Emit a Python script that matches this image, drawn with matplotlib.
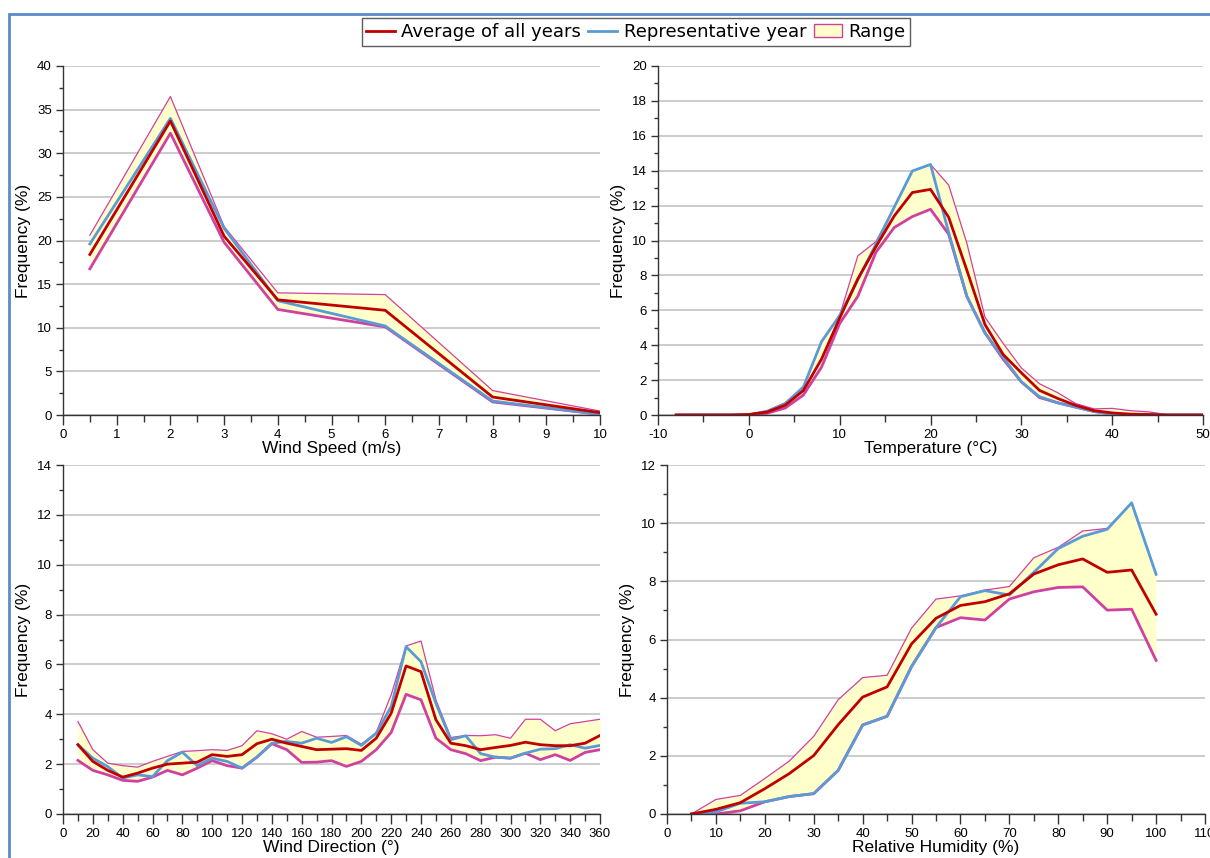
import numpy as np
import matplotlib
matplotlib.use("Agg")
import matplotlib.pyplot as plt
from matplotlib.lines import Line2D
from matplotlib.patches import Patch, Rectangle
from matplotlib.ticker import MultipleLocator, AutoMinorLocator

plt.rcParams['font.family'] = ['Liberation Sans', 'DejaVu Sans']
plt.rcParams['axes.unicode_minus'] = False

# ---- wind speed ----
ws_x = [0.5, 2, 3, 4, 6, 8, 10]
ws_avg = [18.4, 33.7, 20.5, 13.2, 12.0, 2.06, 0.27]
ws_rep = [19.6, 34.0, 21.4, 13.1, 10.2, 1.6, 0.08]
ws_max = [20.6, 36.5, 21.6, 14.0, 13.8, 2.8, 0.45]
ws_min = [16.75, 32.3, 19.8, 12.1, 10.1, 1.5, 0.08]

# ---- temperature ----
t_x = list(range(-8, 52, 2))
t_avg = [0, 0, 0, 0, 0.03, 0.17, 0.56, 1.4, 3.2, 5.55, 7.8, 9.65, 11.4, 12.75, 12.93,
         11.33, 8.3, 5.18, 3.47, 2.42, 1.41, 0.95, 0.55, 0.25, 0.12, 0.05, 0.03, 0, 0, 0]
t_rep = [0, 0, 0, 0, 0, 0.2, 0.65, 1.6, 4.2, 5.7, 7.75, 9.8, 11.9, 13.98, 14.36,
         10.46, 6.8, 4.7, 3.3, 1.9, 1.05, 0.7, 0.45, 0.2, 0.05, 0, 0, 0, 0, 0]
t_max = [0, 0, 0, 0, 0.05, 0.25, 0.7, 1.62, 4.23, 5.71, 9.12, 9.94, 11.9, 13.98, 14.36,
         13.18, 9.85, 5.6, 4.1, 2.7, 1.79, 1.28, 0.65, 0.35, 0.38, 0.25, 0.18, 0.03, 0, 0]
t_min = [0, 0, 0, 0, 0, 0.1, 0.4, 1.14, 2.74, 5.24, 6.8, 9.33, 10.74, 11.37, 11.79,
         10.36, 6.8, 4.7, 3.2, 1.9, 1.0, 0.7, 0.45, 0.2, 0.05, 0, 0, 0, 0, 0]

# ---- wind direction ----
wd_x = list(range(10, 370, 10))
wd_avg = [2.78, 2.11, 1.75, 1.48, 1.64, 1.84, 2.0, 2.04, 2.08, 2.38, 2.31, 2.38,
          2.82, 3.0, 2.84, 2.71, 2.58, 2.6, 2.62, 2.55, 3.04, 4.04, 5.94, 5.71,
          3.78, 2.84, 2.74, 2.58, 2.67, 2.75, 2.88, 2.78, 2.74, 2.74, 2.84, 3.15]
wd_rep = [2.78, 2.24, 1.9, 1.44, 1.57, 1.5, 2.14, 2.48, 1.94, 2.24, 2.11, 1.84,
          2.28, 2.84, 2.91, 2.84, 3.04, 2.87, 3.1, 2.75, 3.24, 4.31, 6.71, 6.11,
          4.44, 2.98, 3.14, 2.42, 2.28, 2.24, 2.44, 2.6, 2.62, 2.78, 2.64, 2.75]
wd_max = [3.71, 2.58, 2.04, 1.94, 1.88, 2.11, 2.31, 2.51, 2.54, 2.58, 2.55, 2.74,
          3.34, 3.22, 3.0, 3.31, 3.08, 3.11, 3.15, 2.8, 3.27, 4.78, 6.74, 6.94,
          4.58, 3.07, 3.15, 3.14, 3.18, 3.04, 3.8, 3.8, 3.34, 3.62, 3.71, 3.8]
wd_min = [2.15, 1.75, 1.57, 1.35, 1.31, 1.48, 1.75, 1.57, 1.84, 2.14, 1.94, 1.84,
          2.28, 2.82, 2.58, 2.07, 2.08, 2.14, 1.91, 2.11, 2.58, 3.27, 4.8, 4.58,
          3.04, 2.58, 2.42, 2.14, 2.28, 2.24, 2.44, 2.18, 2.38, 2.15, 2.47, 2.58]

# ---- relative humidity ----
rh_x = list(range(5, 105, 5))
rh_avg = [0, 0.16, 0.39, 0.87, 1.39, 2.01, 3.07, 4.02, 4.37, 5.85, 6.73, 7.17,
          7.3, 7.57, 8.25, 8.57, 8.77, 8.31, 8.39, 6.87]
rh_rep = [0, 0.07, 0.37, 0.42, 0.6, 0.7, 1.5, 3.06, 3.36, 5.07, 6.41, 7.47,
          7.68, 7.53, 8.31, 9.13, 9.55, 9.79, 10.7, 8.24]
rh_max = [0, 0.5, 0.64, 1.22, 1.82, 2.67, 3.93, 4.69, 4.77, 6.39, 7.39, 7.5,
          7.7, 7.82, 8.81, 9.17, 9.73, 9.82, 10.7, 8.24]
rh_min = [0, 0, 0.11, 0.42, 0.6, 0.7, 1.5, 3.06, 3.36, 5.07, 6.41, 6.75,
          6.67, 7.39, 7.64, 7.79, 7.81, 7.01, 7.04, 5.28]

RED = '#C00000'
BLUE = '#5B9BD5'
MAG = '#D040A0'
FILL = '#FFFFCC'

fig = plt.figure(figsize=(12.1, 8.58), dpi=100)
W, H = 1210.0, 858.0


def make_ax(x0, x1, ytop, ybot):
    return fig.add_axes([x0 / W, 1 - ybot / H, (x1 - x0) / W, (ybot - ytop) / H])


def panel(ax, x, avg, rep, mx, mn, xlim, ylim, xstep, ystep, xlabel):
    ax.fill_between(x, mn, mx, color=FILL, lw=0, zorder=1)
    ax.plot(x, mx, color=MAG, lw=0.9, zorder=2)
    ax.plot(x, mn, color=MAG, lw=2.0, zorder=3)
    ax.plot(x, rep, color=BLUE, lw=2.0, zorder=4)
    ax.plot(x, avg, color=RED, lw=2.0, zorder=5)
    ax.set_xlim(*xlim)
    ax.set_ylim(*ylim)
    ax.xaxis.set_major_locator(MultipleLocator(xstep))
    ax.xaxis.set_minor_locator(AutoMinorLocator(2))
    ax.yaxis.set_major_locator(MultipleLocator(ystep))
    ax.yaxis.set_minor_locator(AutoMinorLocator(2))
    ax.grid(axis='y', which='major', color='#C8C8C8', lw=1.3, zorder=0)
    ax.set_axisbelow(True)
    for s in ['top', 'right']:
        ax.spines[s].set_visible(False)
    for s in ['left', 'bottom']:
        ax.spines[s].set_color('#333333')
        ax.spines[s].set_linewidth(1.0)
    ax.spines['left'].set_zorder(6)
    ax.spines['bottom'].set_zorder(6)
    ax.tick_params(which='major', length=5, width=1, color='#333333',
                   labelsize=9.5, pad=3)
    ax.tick_params(which='minor', length=3, width=1, color='#333333')
    ax.tick_params(axis='x', which='major', length=7)
    ax.tick_params(axis='x', which='minor', length=5)
    ax.set_xlabel(xlabel, fontsize=12.5, labelpad=0)
    ax.set_ylabel('Frequency (%)', fontsize=12.5, labelpad=4)


ax1 = make_ax(63, 600, 66, 415)
panel(ax1, ws_x, ws_avg, ws_rep, ws_max, ws_min, (0, 10), (0, 40), 1, 5,
      'Wind Speed (m/s)')

ax2 = make_ax(658, 1203, 66, 415)
panel(ax2, t_x, t_avg, t_rep, t_max, t_min, (-10, 50), (0, 20), 10, 2,
      'Temperature (\u00b0C)')

ax3 = make_ax(63, 600, 465, 814)
panel(ax3, wd_x, wd_avg, wd_rep, wd_max, wd_min, (0, 360), (0, 14), 20, 2,
      'Wind Direction (\u00b0)')

ax4 = make_ax(667, 1205, 465, 814)
panel(ax4, rh_x, rh_avg, rh_rep, rh_max, rh_min, (0, 110), (0, 12), 10, 2,
      'Relative Humidity (%)')

# figure border (top / left)
fig.patches.append(Rectangle((9 / W, -0.1), 1.2, 1 - 14 / H + 0.1,
                             transform=fig.transFigure, fill=False,
                             edgecolor='#5B8BC9', lw=2.0))

handles = [Line2D([], [], color=RED, lw=2.0),
           Line2D([], [], color=BLUE, lw=2.0),
           Patch(facecolor=FILL, edgecolor=MAG, lw=1.0)]
labels = ['Average of all years', 'Representative year', 'Range']
leg = fig.legend(handles, labels, loc='center', bbox_to_anchor=(636 / W, 1 - 32 / H),
                 ncol=3, frameon=True, fancybox=False,
                 handlelength=1.6, handletextpad=0.35, columnspacing=0.4,
                 borderpad=0.25, prop={'family': 'DejaVu Sans', 'size': 13})
leg.get_frame().set_edgecolor('#333333')
leg.get_frame().set_linewidth(1.0)

fig.savefig('out.png', dpi=100)
